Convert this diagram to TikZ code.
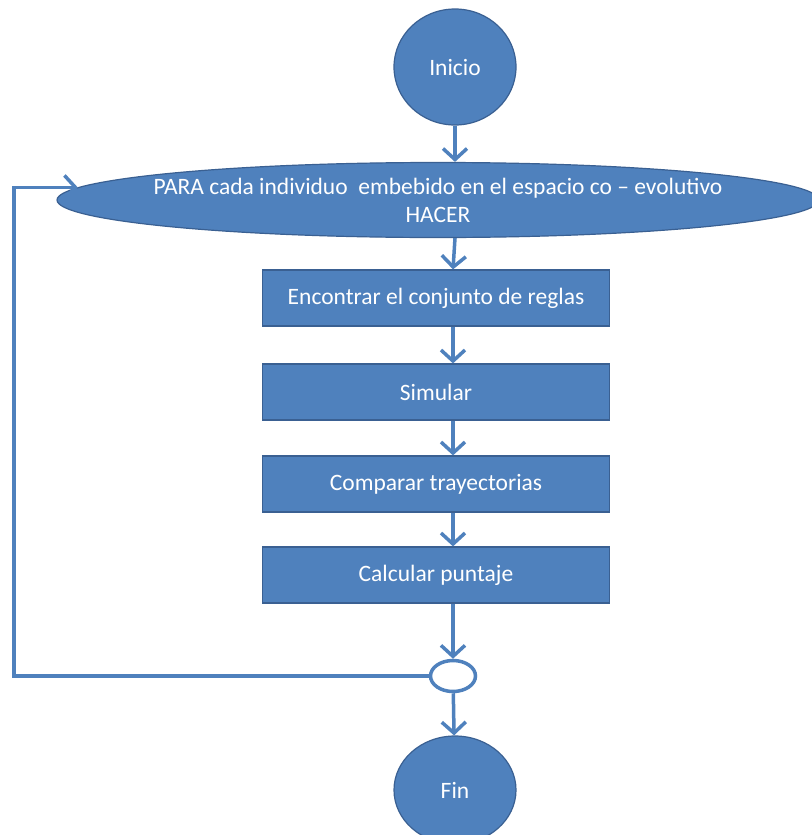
\documentclass[tikz,border=0pt]{standalone}
\usepackage{fontspec}
\setmainfont{Carlito}
\usetikzlibrary{arrows.meta,shapes.geometric}
\definecolor{azul}{RGB}{79,129,189}
\definecolor{azulosc}{RGB}{58,96,146}
\begin{document}
\begin{tikzpicture}[x=1pt,y=-1pt] % diagrama de flujo
\tikzstyle{texto} = [text=white, font=\fontsize{23.5}{28}\selectfont] % texto blanco
\tikzstyle{terminal} = [ellipse, texto, fill=azul, draw=azulosc, line width=1.2pt, inner sep=0pt, minimum width=122pt, minimum height=116pt] % inicio y fin
\tikzstyle{ciclo} = [ellipse, fill=azul, draw=azulosc, line width=1.2pt, inner sep=0pt, minimum width=762pt, minimum height=75pt] % PARA ... HACER
\tikzstyle{paso} = [rectangle, texto, fill=azul, draw=azulosc, line width=1.2pt, minimum width=347pt, minimum height=56pt] % cada paso
\tikzstyle{union} = [ellipse, fill=white, draw=azul, line width=3.5pt, minimum width=45pt, minimum height=31pt, inner sep=0pt] % cierre del ciclo
\tikzstyle{flecha} = [draw=azul, line width=3.5pt, -{Straight Barb[length=11pt,width=24pt]}] % conector

\useasboundingbox (0,0) rectangle (811,835);

\node[terminal] (inicio) at (455,67) {Inicio};
\node[ciclo, label={[texto, align=center]center:{PARA cada individuo \ embebido en el espacio co -- evolutivo\\HACER}}] (para) at (438,200) {}; % texto como etiqueta: el ancho no crece
\node[paso] (reglas) at (436,298) {Encontrar el conjunto de reglas};
\node[paso] (simular) at (436,392) {Simular};
\node[paso] (comparar) at (436,484) {Comparar trayectorias};
\node[paso] (puntaje) at (436,575) {Calcular puntaje};
\node[union] (cierre) at (453,676) {};
\node[terminal, minimum height=108pt] (fin) at (455,790) {Fin};
\coordinate (izq) at (14,188); % esquina del retorno

\draw[flecha] (inicio) -- (para.north -| inicio);
\draw[flecha] (para.south -| inicio) -- (reglas.north -| cierre);
\draw[flecha] (reglas.south -| cierre) -- (simular.north -| cierre);
\draw[flecha] (simular.south -| cierre) -- (comparar.north -| cierre);
\draw[flecha] (comparar.south -| cierre) -- (puntaje.north -| cierre);
\draw[flecha] (puntaje.south -| cierre) -- (cierre);
\draw[flecha] (cierre) -- (fin);
\draw[flecha] (cierre.west) -| (izq) |- (para.178);
\end{tikzpicture}
\end{document}
